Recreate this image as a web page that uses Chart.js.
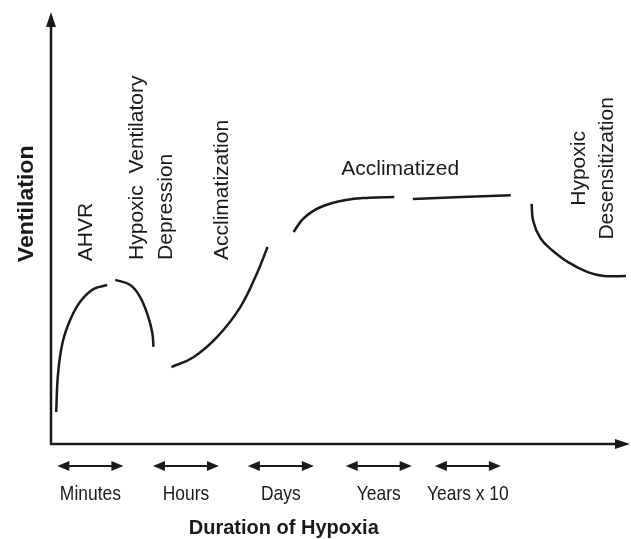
<!DOCTYPE html>
<html>
<head>
<meta charset="utf-8">
<title>Ventilation and duration of hypoxia</title>
<script src="https://cdn.jsdelivr.net/npm/chart.js@4.4.1/dist/chart.umd.min.js"></script>
<style>
    html, body { margin: 0; padding: 0; background: #fff; }
    canvas { display: block; }
</style>
</head>
<body>
<canvas id="chart__hypoxia" width="631" height="539"></canvas>
<script>
// curve pieces as [duration, ventilation], both in relative units 0-100
const ahvr = [[0.9, 7.4], [1.2, 16.0], [2.0, 23.5], [3.4, 29.0], [5.2, 33.2], [7.4, 35.9], [9.7, 36.8]];
const depression = [[11.1, 38.0], [13.7, 36.8], [15.4, 34.0], [16.8, 29.4], [17.5, 25.7], [17.7, 22.5]];
const acclimatization = [[20.8, 17.8], [24.6, 20.1], [28.7, 24.8], [32.7, 31.7], [35.6, 39.6], [37.4, 45.6]];
const acclimatizedEarly = [[41.9, 49.1], [43.6, 52.2], [46.5, 54.8], [51.0, 56.5], [55.0, 57.0], [59.3, 57.2]];
const acclimatizedLate = [[62.5, 56.7], [79.4, 57.6]];
const desensitization = [[83.0, 55.6], [83.3, 51.5], [84.6, 47.5], [86.6, 44.8], [89.3, 42.1], [92.7, 39.8], [95.5, 38.9], [99.3, 38.9]];

// time periods under the x axis
const periods = ['Minutes', 'Hours', 'Days', 'Years', 'Years x 10'];
const periodCentres = [6.8, 23.3, 39.7, 56.6, 72.0];

const INK = '#1a1a1a';
const FONT = '"Liberation Sans", Arial, Helvetica, sans-serif';

const toPoints = (arr) => arr.map(p => ({ x: p[0], y: p[1] }));
const piece = (arr) => ({
    data: toPoints(arr),
    borderColor: INK,
    borderWidth: 2.5,
    pointRadius: 0,
    tension: 0.4,
    fill: false,
    clip: false
});

// rotated and flat text labels, placed in axis units
const notes = [
    { text: 'AHVR', x: 7.1, y: 42.3, rot: true, align: 'left' },
    { text: 'Hypoxic  Ventilatory', x: 15.9, y: 42.6, rot: true, align: 'left' },
    { text: 'Depression', x: 20.9, y: 42.6, rot: true, align: 'left' },
    { text: 'Acclimatization', x: 30.6, y: 42.6, rot: true, align: 'left' },
    { text: 'Acclimatized', x: 60.3, y: 62.3, rot: false, align: 'center' },
    { text: 'Hypoxic', x: 92.2, y: 63.8, rot: true, align: 'center' },
    { text: 'Desensitization', x: 97.1, y: 63.8, rot: true, align: 'center' }
];

function arrowHead(ctx, tx, ty, dx, dy, len, half) {
    // tip at (tx,ty), pointing along (dx,dy)
    const bx = tx - dx * len, by = ty - dy * len;
    ctx.beginPath();
    ctx.moveTo(tx, ty);
    ctx.lineTo(bx - dy * half, by + dx * half);
    ctx.lineTo(bx + dy * half, by - dx * half);
    ctx.closePath();
    ctx.fill();
}

const decorations = {
    id: 'decorations',
    afterDatasetsDraw(chart) {
        const ctx = chart.ctx;
        const a = chart.chartArea;
        const xs = chart.scales.x, ys = chart.scales.y;
        ctx.save();
        ctx.strokeStyle = INK;
        ctx.fillStyle = INK;
        ctx.lineWidth = 2.5;
        ctx.lineCap = 'butt';

        // axes with arrows
        ctx.beginPath();
        ctx.moveTo(a.left, a.top + 12);
        ctx.lineTo(a.left, a.bottom);
        ctx.lineTo(a.right - 12, a.bottom);
        ctx.stroke();
        arrowHead(ctx, a.left, a.top, 0, -1, 15, 5);
        arrowHead(ctx, a.right, a.bottom, 1, 0, 15, 5);

        // period arrows + labels
        const arrowY = ys.getPixelForValue(-5.1);
        const labelY = ys.getPixelForValue(-13.0);
        ctx.lineWidth = 2;
        periods.forEach((name, i) => {
            const cx = xs.getPixelForValue(periodCentres[i]);
            ctx.beginPath();
            ctx.moveTo(cx - 24, arrowY);
            ctx.lineTo(cx + 24, arrowY);
            ctx.stroke();
            arrowHead(ctx, cx - 33, arrowY, -1, 0, 12, 5);
            arrowHead(ctx, cx + 33, arrowY, 1, 0, 12, 5);

            ctx.save();
            ctx.translate(cx, labelY);
            ctx.scale(0.83, 1);
            ctx.font = '21px ' + FONT;
            ctx.textAlign = 'center';
            ctx.textBaseline = 'alphabetic';
            ctx.fillText(name, 0, 0);
            ctx.restore();
        });

        // notes on the curve
        ctx.font = '21px ' + FONT;
        ctx.textBaseline = 'alphabetic';
        notes.forEach(n => {
            const px = xs.getPixelForValue(n.x);
            const py = ys.getPixelForValue(n.y);
            ctx.save();
            ctx.translate(px, py);
            if (n.rot) ctx.rotate(-Math.PI / 2);
            ctx.textAlign = n.align;
            ctx.fillText(n.text, 0, 0);
            ctx.restore();
        });

        // axis titles
        ctx.font = 'bold 20px ' + FONT;
        ctx.textAlign = 'center';
        ctx.fillText('Duration of Hypoxia', xs.getPixelForValue(40.2), ys.getPixelForValue(-20.8));

        ctx.save();
        ctx.translate(xs.getPixelForValue(-3.1), ys.getPixelForValue(55.6));
        ctx.rotate(-Math.PI / 2);
        ctx.scale(1.05, 1);
        ctx.font = 'bold 22px ' + FONT;
        ctx.fillText('Ventilation', 0, 0);
        ctx.restore();

        ctx.restore();
    }
};

const chart = document.getElementById('chart__hypoxia').getContext('2d');
const hypoxiaChart = new Chart(chart, {
    type: 'line',
    data: {
        datasets: [
            piece(ahvr),
            piece(depression),
            piece(acclimatization),
            piece(acclimatizedEarly),
            piece(acclimatizedLate),
            piece(desensitization)
        ]
    },
    options: {
        responsive: false,
        animation: false,
        layout: { padding: { left: 51, right: 1, top: 12, bottom: 95 } },
        scales: {
            x: { type: 'linear', min: 0, max: 100, display: false },
            y: { type: 'linear', min: 0, max: 100, display: false }
        },
        plugins: {
            legend: { display: false },
            tooltip: { enabled: false }
        }
    },
    plugins: [decorations]
});
</script>
</body>
</html>
